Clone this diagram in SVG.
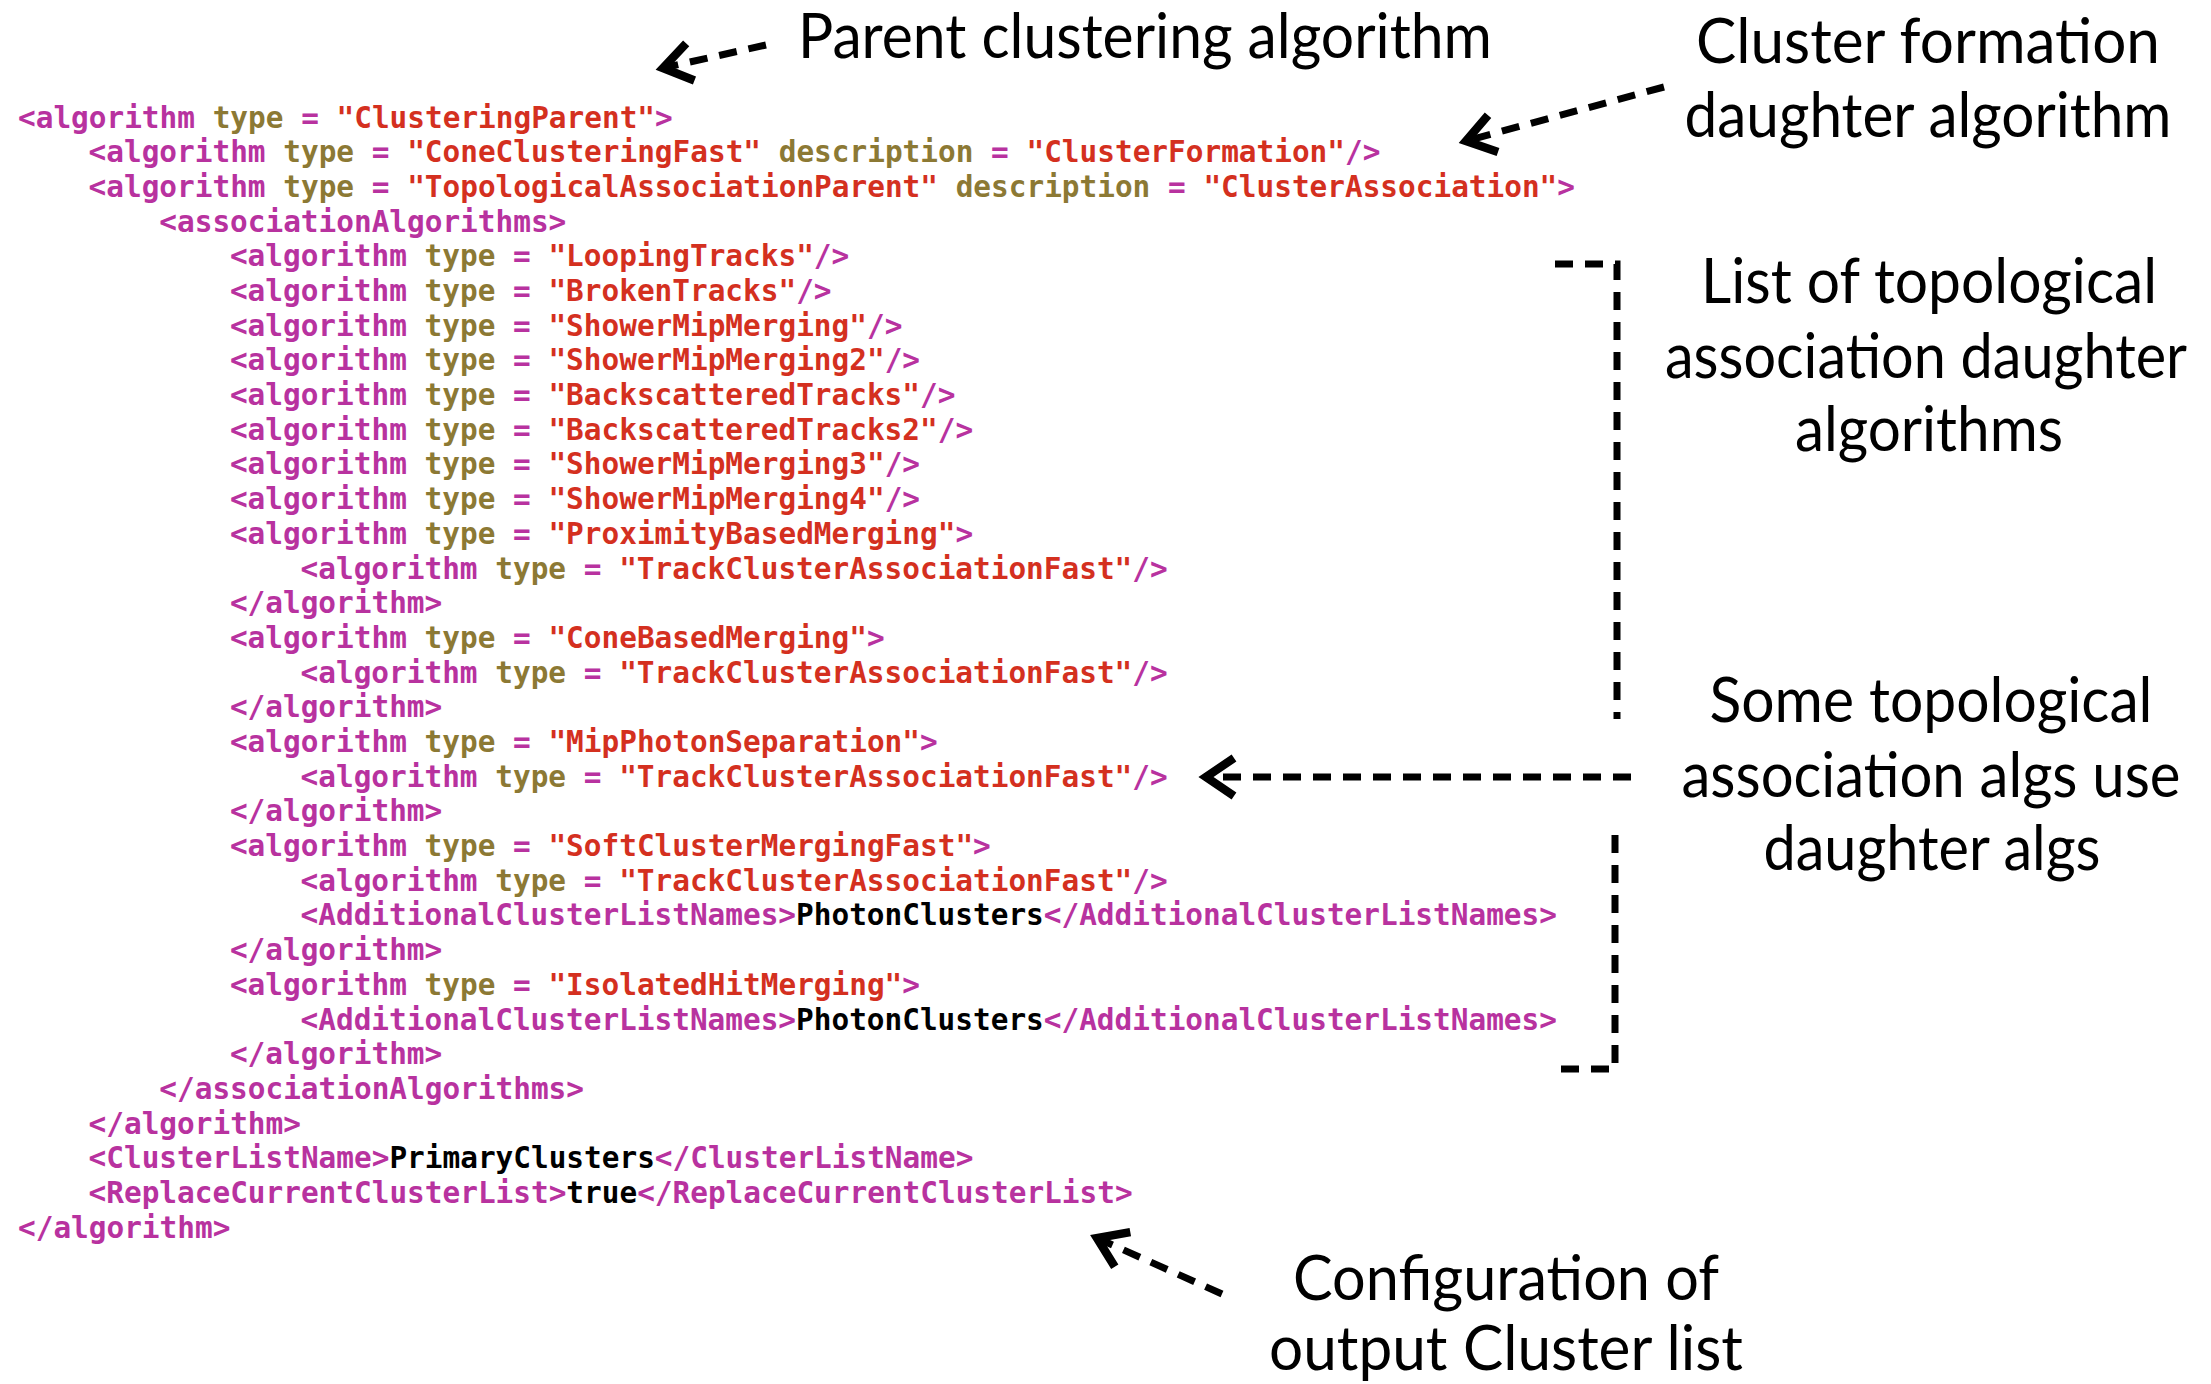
<svg xmlns="http://www.w3.org/2000/svg" width="2211" height="1384" viewBox="0 0 2211 1384">
<style>
.c{font-family:"DejaVu Sans Mono","Liberation Mono",monospace;font-weight:bold;font-size:29.4px;fill:#B8329F}
.a{fill:#8C7934}
.s{fill:#D4301F}
.v{fill:#000000}
.n{font-family:Lato,"Open Sans",sans-serif;font-size:62px;fill:#000000;text-anchor:middle}
.d{fill:none;stroke:#000000;stroke-width:7;stroke-dasharray:18 12}
</style>
<defs>
<marker id="head" viewBox="-40 -25 50 50" refX="0" refY="0" markerWidth="50" markerHeight="50" markerUnits="userSpaceOnUse" orient="auto" overflow="visible">
<path d="M -28 -19 L 0 0 L -28 19" fill="none" stroke="#000000" stroke-width="8.5" stroke-dasharray="none" stroke-linejoin="miter"/>
</marker>
</defs>
<rect x="0" y="0" width="2211" height="1384" fill="#ffffff"/>
<g id="code">
<text class="c" x="18" y="127.5" xml:space="preserve">&lt;algorithm <tspan class="a">type</tspan> = <tspan class="s">"ClusteringParent"</tspan>&gt;</text>
<text class="c" x="88.6" y="162.2" xml:space="preserve">&lt;algorithm <tspan class="a">type</tspan> = <tspan class="s">"ConeClusteringFast"</tspan> <tspan class="a">description</tspan> = <tspan class="s">"ClusterFormation"</tspan>/&gt;</text>
<text class="c" x="88.6" y="196.9" xml:space="preserve">&lt;algorithm <tspan class="a">type</tspan> = <tspan class="s">"TopologicalAssociationParent"</tspan> <tspan class="a">description</tspan> = <tspan class="s">"ClusterAssociation"</tspan>&gt;</text>
<text class="c" x="159.3" y="231.6" xml:space="preserve">&lt;associationAlgorithms&gt;</text>
<text class="c" x="229.9" y="266.3" xml:space="preserve">&lt;algorithm <tspan class="a">type</tspan> = <tspan class="s">"LoopingTracks"</tspan>/&gt;</text>
<text class="c" x="229.9" y="301.0" xml:space="preserve">&lt;algorithm <tspan class="a">type</tspan> = <tspan class="s">"BrokenTracks"</tspan>/&gt;</text>
<text class="c" x="229.9" y="335.6" xml:space="preserve">&lt;algorithm <tspan class="a">type</tspan> = <tspan class="s">"ShowerMipMerging"</tspan>/&gt;</text>
<text class="c" x="229.9" y="370.3" xml:space="preserve">&lt;algorithm <tspan class="a">type</tspan> = <tspan class="s">"ShowerMipMerging2"</tspan>/&gt;</text>
<text class="c" x="229.9" y="405.0" xml:space="preserve">&lt;algorithm <tspan class="a">type</tspan> = <tspan class="s">"BackscatteredTracks"</tspan>/&gt;</text>
<text class="c" x="229.9" y="439.7" xml:space="preserve">&lt;algorithm <tspan class="a">type</tspan> = <tspan class="s">"BackscatteredTracks2"</tspan>/&gt;</text>
<text class="c" x="229.9" y="474.4" xml:space="preserve">&lt;algorithm <tspan class="a">type</tspan> = <tspan class="s">"ShowerMipMerging3"</tspan>/&gt;</text>
<text class="c" x="229.9" y="509.1" xml:space="preserve">&lt;algorithm <tspan class="a">type</tspan> = <tspan class="s">"ShowerMipMerging4"</tspan>/&gt;</text>
<text class="c" x="229.9" y="543.8" xml:space="preserve">&lt;algorithm <tspan class="a">type</tspan> = <tspan class="s">"ProximityBasedMerging"</tspan>&gt;</text>
<text class="c" x="300.6" y="578.5" xml:space="preserve">&lt;algorithm <tspan class="a">type</tspan> = <tspan class="s">"TrackClusterAssociationFast"</tspan>/&gt;</text>
<text class="c" x="229.9" y="613.2" xml:space="preserve">&lt;/algorithm&gt;</text>
<text class="c" x="229.9" y="647.9" xml:space="preserve">&lt;algorithm <tspan class="a">type</tspan> = <tspan class="s">"ConeBasedMerging"</tspan>&gt;</text>
<text class="c" x="300.6" y="682.6" xml:space="preserve">&lt;algorithm <tspan class="a">type</tspan> = <tspan class="s">"TrackClusterAssociationFast"</tspan>/&gt;</text>
<text class="c" x="229.9" y="717.3" xml:space="preserve">&lt;/algorithm&gt;</text>
<text class="c" x="229.9" y="751.9" xml:space="preserve">&lt;algorithm <tspan class="a">type</tspan> = <tspan class="s">"MipPhotonSeparation"</tspan>&gt;</text>
<text class="c" x="300.6" y="786.6" xml:space="preserve">&lt;algorithm <tspan class="a">type</tspan> = <tspan class="s">"TrackClusterAssociationFast"</tspan>/&gt;</text>
<text class="c" x="229.9" y="821.3" xml:space="preserve">&lt;/algorithm&gt;</text>
<text class="c" x="229.9" y="856.0" xml:space="preserve">&lt;algorithm <tspan class="a">type</tspan> = <tspan class="s">"SoftClusterMergingFast"</tspan>&gt;</text>
<text class="c" x="300.6" y="890.7" xml:space="preserve">&lt;algorithm <tspan class="a">type</tspan> = <tspan class="s">"TrackClusterAssociationFast"</tspan>/&gt;</text>
<text class="c" x="300.6" y="925.4" xml:space="preserve">&lt;AdditionalClusterListNames&gt;<tspan class="v">PhotonClusters</tspan>&lt;/AdditionalClusterListNames&gt;</text>
<text class="c" x="229.9" y="960.1" xml:space="preserve">&lt;/algorithm&gt;</text>
<text class="c" x="229.9" y="994.8" xml:space="preserve">&lt;algorithm <tspan class="a">type</tspan> = <tspan class="s">"IsolatedHitMerging"</tspan>&gt;</text>
<text class="c" x="300.6" y="1029.5" xml:space="preserve">&lt;AdditionalClusterListNames&gt;<tspan class="v">PhotonClusters</tspan>&lt;/AdditionalClusterListNames&gt;</text>
<text class="c" x="229.9" y="1064.2" xml:space="preserve">&lt;/algorithm&gt;</text>
<text class="c" x="159.3" y="1098.8" xml:space="preserve">&lt;/associationAlgorithms&gt;</text>
<text class="c" x="88.6" y="1133.5" xml:space="preserve">&lt;/algorithm&gt;</text>
<text class="c" x="88.6" y="1168.2" xml:space="preserve">&lt;ClusterListName&gt;<tspan class="v">PrimaryClusters</tspan>&lt;/ClusterListName&gt;</text>
<text class="c" x="88.6" y="1202.9" xml:space="preserve">&lt;ReplaceCurrentClusterList&gt;<tspan class="v">true</tspan>&lt;/ReplaceCurrentClusterList&gt;</text>
<text class="c" x="18" y="1237.6" xml:space="preserve">&lt;/algorithm&gt;</text>
</g>
<g id="label-parent">
<text class="n" x="1145" y="58" textLength="694" lengthAdjust="spacingAndGlyphs">Parent clustering algorithm</text>
</g>
<g id="label-formation">
<text class="n" x="1928" y="63" textLength="464" lengthAdjust="spacingAndGlyphs">Cluster formation</text>
<text class="n" x="1928" y="137" textLength="487" lengthAdjust="spacingAndGlyphs">daughter algorithm</text>
</g>
<g id="label-list">
<text class="n" x="1929" y="303" textLength="456" lengthAdjust="spacingAndGlyphs">List of topological</text>
<text class="n" x="1926" y="378" textLength="522" lengthAdjust="spacingAndGlyphs">association daughter</text>
<text class="n" x="1929" y="451" textLength="268" lengthAdjust="spacingAndGlyphs">algorithms</text>
</g>
<g id="label-some">
<text class="n" x="1931" y="722" textLength="443" lengthAdjust="spacingAndGlyphs">Some topological</text>
<text class="n" x="1931" y="797" textLength="499" lengthAdjust="spacingAndGlyphs">association algs use</text>
<text class="n" x="1932" y="870" textLength="337" lengthAdjust="spacingAndGlyphs">daughter algs</text>
</g>
<g id="label-config">
<text class="n" x="1506" y="1300" textLength="426" lengthAdjust="spacingAndGlyphs">Configuration of</text>
<text class="n" x="1506" y="1370" textLength="474" lengthAdjust="spacingAndGlyphs">output Cluster list</text>
</g>
<g id="connectors">
<path class="d" d="M 766 45 L 663 68" marker-end="url(#head)"/>
<path class="d" d="M 1664 87 L 1466 141" marker-end="url(#head)"/>
<path class="d" d="M 1631 777 L 1206 777" marker-end="url(#head)"/>
<path class="d" d="M 1222 1294 L 1097 1238" marker-end="url(#head)"/>
<path class="d" d="M 1555 264 L 1617 264 L 1617 719"/>
<path class="d" d="M 1615 835 L 1615 1069 L 1551 1069"/>
</g>
</svg>
